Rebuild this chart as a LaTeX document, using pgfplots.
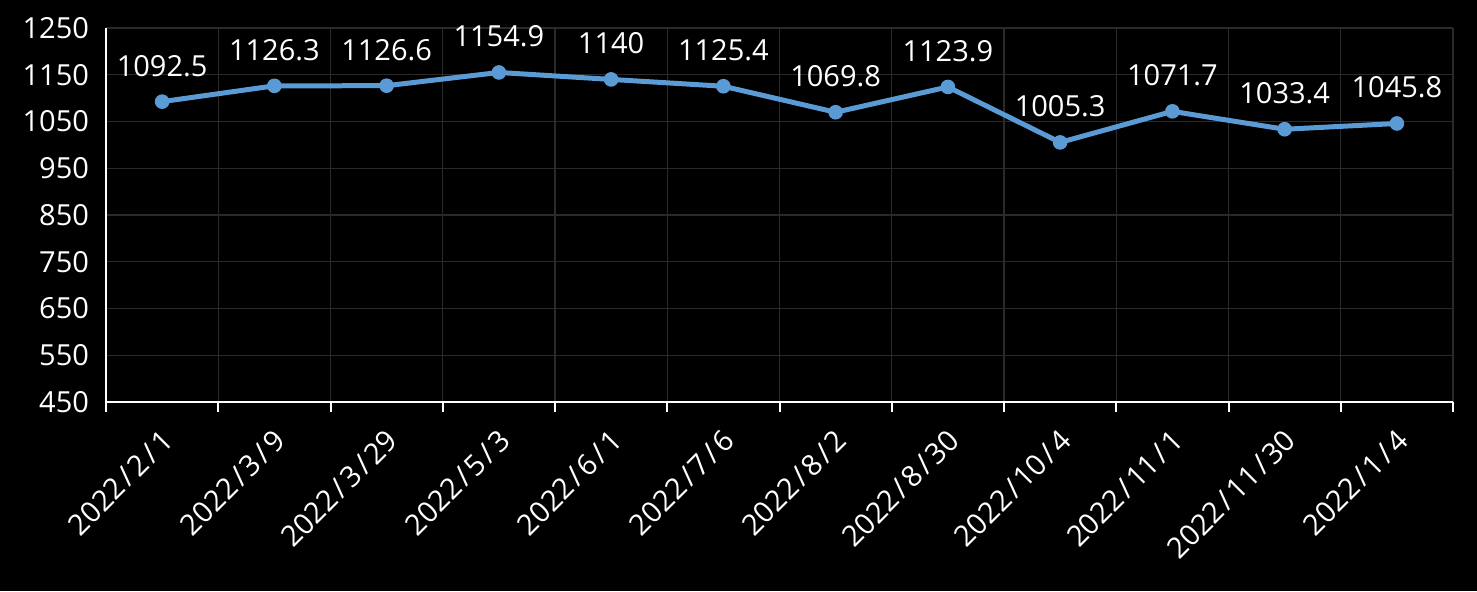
\documentclass[border=0pt]{standalone}
\usepackage{pgfplots}
\pgfplotsset{compat=1.18}
\usepackage{pgfplotstable}
\usepackage{fontspec}
\setmainfont{Open Sans}
\usetikzlibrary{backgrounds}
\definecolor{lineblue}{HTML}{5B9BD5}
\definecolor{gridgray}{HTML}{2A2A2A}
\newcommand{\sls}{\kern1.6pt/\kern1.6pt}
\pgfplotstableread{
x y lab
0 1092.5 1092.5
1 1126.3 1126.3
2 1126.6 1126.6
3 1154.9 1154.9
4 1140 1140
5 1125.4 1125.4
6 1069.8 1069.8
7 1123.9 1123.9
8 1005.3 1005.3
9 1071.7 1071.7
10 1033.4 1033.4
11 1045.8 1045.8
}\datatable
\begin{document}
\begin{tikzpicture}[show background rectangle, inner frame sep=0pt, background rectangle/.style={fill=black,draw=none}]
\begin{axis}[
  scale only axis, width=673.5pt, height=187pt,
  xmin=-0.5, xmax=11.5, ymin=450, ymax=1250,
  axis x line=bottom, axis y line=left,
  axis line style={white, line width=1pt, -},
  xtick={0,...,11},
  xticklabels={2022\sls2\sls1,2022\sls3\sls9,2022\sls3\sls29,2022\sls5\sls3,2022\sls6\sls1,2022\sls7\sls6,2022\sls8\sls2,2022\sls8\sls30,2022\sls10\sls4,2022\sls11\sls1,2022\sls11\sls30,2022\sls1\sls4},
  minor xtick={-0.5,0.5,...,11.5},
  ytick={450,550,...,1250},
  major tick length=0pt,
  minor tick length=5pt,
  tick align=outside,
  minor tick style={white, line width=1pt},
  ymajorgrids, xminorgrids,
  grid style={gridgray, line width=0.6pt},
  minor grid style={gridgray, line width=0.6pt},
  tick label style={white, font=\fontsize{14.5}{16}\selectfont},
  xticklabel style={rotate=45, anchor=north east, xshift=-6.2pt, yshift=-4.9pt},
  yticklabel style={xshift=-5pt},
  /pgf/number format/assume math mode=true,
  /pgf/number format/1000 sep={},
  yticklabel={\pgfmathprintnumber[fixed,precision=0,1000 sep={}]{\tick}},
  clip=false,
]
\addplot[lineblue, line width=2.5pt, mark=*, mark size=3.4pt, mark options={fill=lineblue, draw=lineblue, line width=0.5pt},
  nodes near coords, point meta=explicit symbolic,
  every node near coord/.append style={white, font=\fontsize{14.5}{16}\selectfont, yshift=9pt}]
  table[x=x, y=y, meta=lab] {\datatable};
\end{axis}
\path (current axis.south west) ++(-53pt,-94.5pt) coordinate (bl);
\path (current axis.north east) ++(12pt,14pt) coordinate (tr);
\useasboundingbox (bl) rectangle (tr);
\end{tikzpicture}
\end{document}
